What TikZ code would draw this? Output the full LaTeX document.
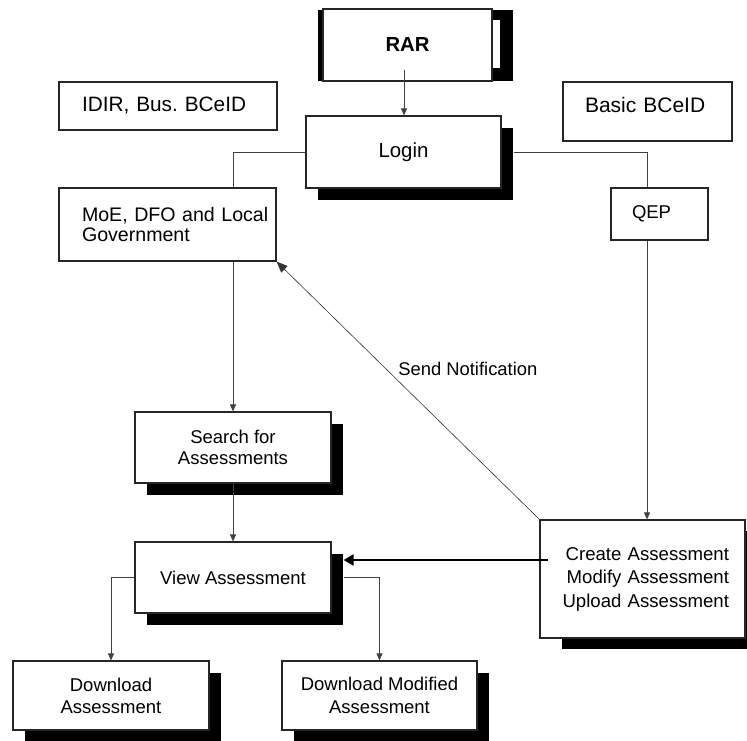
\documentclass[tikz,border=0pt]{standalone}
\usepackage{fontspec}
\setmainfont{Liberation Sans}
\usetikzlibrary{arrows.meta,shadows}
\frenchspacing
\tikzset{
  box/.style={draw=black!85, line width=1.2pt, fill=white, inner sep=0pt,
    font=\fontsize{18.5}{22}\selectfont},
  shad/.style={drop shadow={shadow xshift=12pt, shadow yshift=-12pt, fill=black, opacity=1}},
  conn/.style={draw=black!75, line width=0.9pt},
  arr/.style={conn, -{Triangle[length=7pt,width=6pt]}},
  thinarr/.style={draw=black!80, line width=0.6pt, -{Triangle[length=11pt,width=9pt]}},
  thickarr/.style={draw=black, line width=2pt, -{Triangle[length=10pt,width=11pt]}},
}
\begin{document}
\begin{tikzpicture}[x=1pt,y=-1pt]
\useasboundingbox (0,0) rectangle (747,740);

% RAR box with its heavy frame
\fill[black] (318,10) rectangle (513,81);
\node[box, minimum width=169pt, minimum height=72pt,
  font=\fontsize{20.3}{24}\selectfont\bfseries] (rar) at (407.5,45) {RAR};
\fill[white] (493,20) rectangle (500,68);

\node[box, minimum width=218pt, minimum height=48pt, text width=172pt,
  inner xsep=23pt, align=left, font=\fontsize{20.8}{24}\selectfont]
  (idir) at (168,106) {IDIR, Bus.\ BCeID};

\node[box, minimum width=169pt, minimum height=59pt, text width=125pt,
  inner xsep=22pt, align=left, text height=15pt, text depth=13pt,
  font=\fontsize{21}{24}\selectfont]
  (basic) at (647.5,111.5) {Basic BCeID};

\node[box, shad, minimum width=195pt, minimum height=72pt,
  font=\fontsize{20.4}{24}\selectfont] (login) at (403.5,152) {Login};

\node[box, minimum width=217pt, minimum height=73pt, text width=171pt,
  inner xsep=23pt, align=left, font=\fontsize{19.6}{20}\selectfont]
  (moe) at (167.5,224.5) {\mbox{MoE, DFO and Local}\\Government};

\node[box, minimum width=97pt, minimum height=52pt, text width=55pt,
  inner xsep=21pt, align=left] (qep) at (659.5,214) {QEP};

\node[box, shad, minimum width=196pt, minimum height=71pt, align=center,
  font=\fontsize{18.5}{21}\selectfont]
  (search) at (233,447.5) {Search for\\Assessments};

\node[box, shad, minimum width=196pt, minimum height=71pt]
  (view) at (233,577.5) {View Assessment};

\node[box, drop shadow={shadow xshift=22pt, shadow yshift=-11pt, fill=black, opacity=1},
  minimum width=205pt, minimum height=118pt, text width=173pt, inner xsep=16pt,
  align=right, font=\fontsize{18.6}{23.5}\selectfont]
  (create) at (642.5,579) {Create Assessment\\Modify Assessment\\Upload Assessment};

\node[box, shad, minimum width=196pt, minimum height=69pt, align=center]
  (dl) at (111,695.5) {Download\\Assessment};

\node[box, shad, minimum width=195pt, minimum height=69pt, align=center,
  font=\fontsize{18.5}{23}\selectfont]
  (dlm) at (379.5,695.5) {Download Modified\\Assessment};

% connectors
\coordinate (rarout) at ([xshift=-3.5pt,yshift=12pt]rar.south);
\draw[arr] (rarout) -- (rarout |- login.north);

\draw[conn] (login.west) -| (search.north |- moe.north);
\coordinate (loginsh) at ([xshift=12pt]login.east);
\coordinate (qepin) at ([xshift=-12.5pt]qep.north);
\coordinate (qepout) at ([xshift=-12.5pt]qep.south);
\draw[conn] (loginsh) -| (qepin);

\draw[arr] (search.north |- moe.south) -- (search.north);
\draw[arr] (search.south) -- (view.north);
\draw[arr] (qepout) -- (qepout |- create.north);

\coordinate (thkA) at ([xshift=9pt,yshift=19pt]create.west);
\coordinate (viewsh) at ([xshift=12pt]view.east);
\draw[thickarr] (thkA) -- (thkA -| viewsh);

\draw[thinarr] (create.north west) -- node[pos=0.585, anchor=west, xshift=9pt,
  font=\fontsize{18.4}{22}\selectfont] (sn) {Send Notification} (moe.south east);

\draw[arr] (view.west) -| (dl.north);
\draw[arr] (viewsh) -| (dlm.north);
\end{tikzpicture}
\end{document}
